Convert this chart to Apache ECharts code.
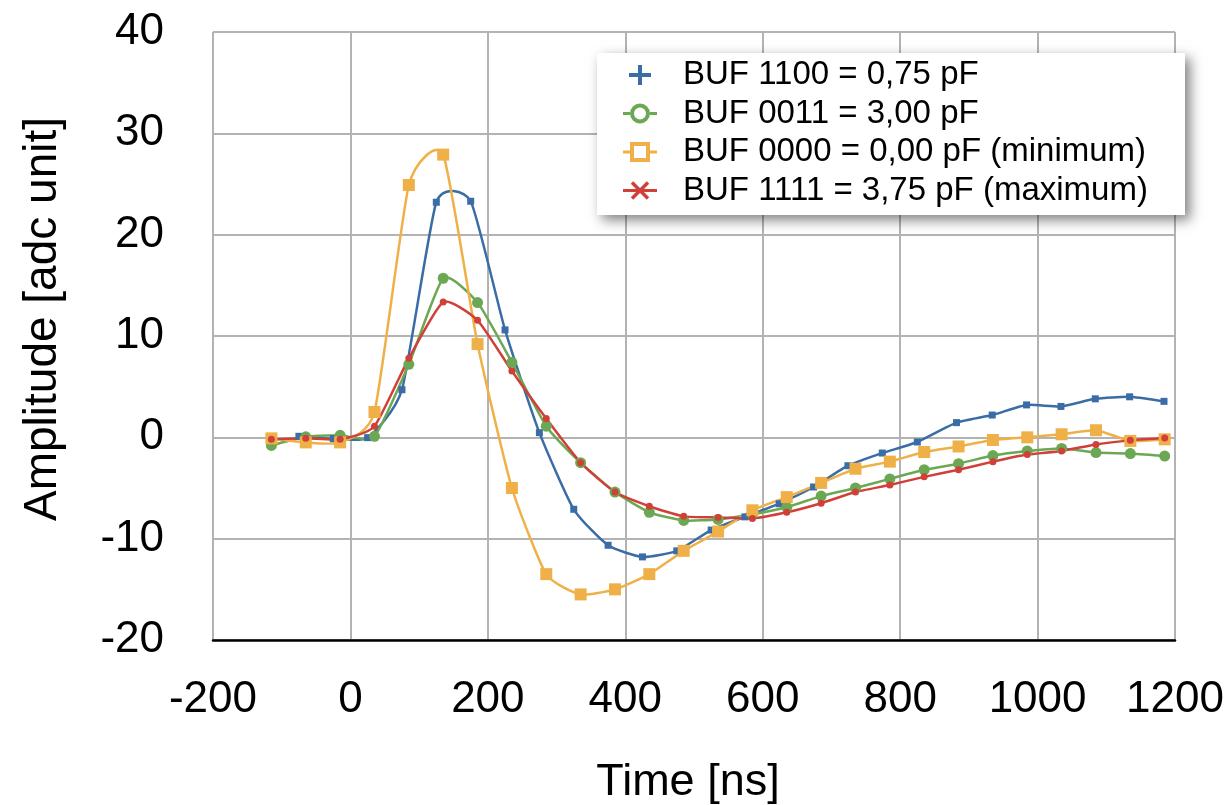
<!DOCTYPE html>
<html>
<head>
<meta charset="utf-8">
<title>BUF amplitude</title>
<script src="https://cdn.jsdelivr.net/npm/echarts@6/dist/echarts.min.js"></script>
<style>
	html, body { margin: 0; padding: 0; background: #fff; }
	#pulse-chart { width: 1230px; height: 805px; }
</style>
</head>
<body>
<div id="pulse-chart"></div>
<script>
// sample times [ns]
var timeA = [-115,-65,-15,35,85,135,185,235,285,335,385,435,485,535,585,635,685,735,785,835,885,935,985,1035,1085,1135,1185];
var timeBlue = [-75,-25,25,75,125,175,225,275,325,375,425,475,525,574,624,674,724,774,825,882,934,984,1034,1084,1134,1184];

// amplitudes [adc unit]
var buf1100 = [0.1,-0.13,-0.03,4.7,23.2,23.3,10.6,0.46,-7.1,-10.65,-11.8,-11.2,-9.15,-7.85,-6.55,-4.9,-2.8,-1.55,-0.46,1.45,2.2,3.2,3.05,3.8,4.0,3.55];
var buf0011 = [-0.8,0.05,0.2,0.1,7.2,15.7,13.3,7.4,1.1,-2.5,-5.4,-7.4,-8.2,-8.1,-7.6,-6.9,-5.8,-5.0,-4.1,-3.2,-2.6,-1.8,-1.35,-1.1,-1.5,-1.6,-1.85];
var buf0000 = [-0.1,-0.5,-0.5,2.5,24.9,27.9,9.2,-5.0,-13.5,-15.5,-15.0,-13.5,-11.2,-9.3,-7.2,-5.9,-4.5,-3.1,-2.4,-1.45,-0.9,-0.26,0.0,0.3,0.7,-0.35,-0.2];
var buf1111 = [-0.2,-0.1,-0.2,1.1,7.8,13.35,11.55,6.55,1.85,-2.5,-5.4,-6.8,-7.8,-7.9,-8.0,-7.4,-6.5,-5.4,-4.7,-3.9,-3.2,-2.4,-1.7,-1.35,-0.7,-0.3,-0.07];

var seriesNames = ['BUF 1100 = 0,75 pF','BUF 0011 = 3,00 pF','BUF 0000 = 0,00 pF (minimum)','BUF 1111 = 3,75 pF (maximum)'];
var colors = ['#3a6ca6','#6ca854','#f0b048','#d04038'];

function pairs(xs, ys){
	var out = [];
	for (var i = 0; i < ys.length; i++) {
		out.push([xs[i], ys[i]]);
	}
	return out;
}

// one bezier segment per data point, cardinal spline through the samples
function splineSegment(xs, ys, color){
	var k = 0.09;
	return function(params, api){
		var i = params.dataIndex;
		var n = ys.length;
		if (i >= n - 1) return null;
		var p0 = api.coord([xs[Math.max(i - 1, 0)], ys[Math.max(i - 1, 0)]]);
		var p1 = api.coord([xs[i], ys[i]]);
		var p2 = api.coord([xs[i + 1], ys[i + 1]]);
		var p3 = api.coord([xs[Math.min(i + 2, n - 1)], ys[Math.min(i + 2, n - 1)]]);
		return {
			type: 'bezierCurve',
			shape: {
				x1: p1[0], y1: p1[1],
				x2: p2[0], y2: p2[1],
				cpx1: p1[0] + (p2[0] - p0[0]) * k,
				cpy1: p1[1] + (p2[1] - p0[1]) * k,
				cpx2: p2[0] - (p3[0] - p1[0]) * k,
				cpy2: p2[1] - (p3[1] - p1[1]) * k
			},
			style: { stroke: color, lineWidth: 2.5, fill: null, lineCap: 'round' }
		};
	};
}

function pulseChart(){
	var chart = echarts.init(document.getElementById('pulse-chart'));
	var font = '"Liberation Sans", Arial, Helvetica, sans-serif';
	var gridColor = '#b3b3b3';

	// legend icons
	var iconPlus = 'path://M9,0H13V8H22V12H13V20H9V12H0V8H9Z';
	var iconRing = 'path://M0,8.5H7V11.5H0Z M27,8.5H34V11.5H27Z M27,10A10,10 0 1,1 7,10A10,10 0 1,1 27,10Z M23,10A6,6 0 1,0 11,10A6,6 0 1,0 23,10Z';
	var iconSquare = 'path://M0,8.5H7V11.5H0Z M27,8.5H34V11.5H27Z M7,0H27V20H7Z M11,4V16H23V4Z';
	var iconStar = 'path://M0,8.5H34V11.5H0Z M10.24,0.76L26.24,16.76L23.76,19.24L7.76,3.24Z M26.24,3.24L10.24,19.24L7.76,16.76L23.76,0.76Z';

	var xsList = [timeBlue, timeA, timeA, timeA];
	var ysList = [buf1100, buf0011, buf0000, buf1111];
	var symbols = ['rect','circle','rect','circle'];
	var symbolSizes = [7, 11, 12, 7];

	var series = [];
	for (var s = 0; s < 4; s++) {
		series.push({
			type: 'custom',
			coordinateSystem: 'cartesian2d',
			renderItem: splineSegment(xsList[s], ysList[s], colors[s]),
			encode: { x: 0, y: 1 },
			silent: true,
			z: 2,
			data: pairs(xsList[s], ysList[s])
		});
	}
	for (var m = 0; m < 4; m++) {
		series.push({
			name: seriesNames[m],
			type: 'scatter',
			symbol: symbols[m],
			symbolSize: symbolSizes[m],
			itemStyle: { color: colors[m], opacity: 1 },
			z: 3,
			data: pairs(xsList[m], ysList[m])
		});
	}

	var option = {
		animation: false,
		color: colors,
		textStyle: { fontFamily: font },
		grid: {
			left: 213,
			right: 55,
			top: 32,
			bottom: 165,
			containLabel: false,
			outerBoundsMode: 'none'
		},
		graphic: [{
			type: 'rect',
			z: 4,
			shape: { x: 597, y: 53, width: 588, height: 162 },
			style: {
				fill: '#fff',
				shadowBlur: 12,
				shadowOffsetX: 5,
				shadowOffsetY: 5,
				shadowColor: 'rgba(0,0,0,0.5)'
			}
		}],
		legend: {
			z: 6,
			orient: 'vertical',
			left: 623,
			top: 58,
			padding: 0,
			itemWidth: 34,
			itemHeight: 20,
			itemGap: 4.5,
			textStyle: {
				fontFamily: font,
				fontSize: 33,
				lineHeight: 34,
				color: '#000',
				padding: [0,0,0,21]
			},
			data: [
				{ name: seriesNames[0], icon: iconPlus },
				{ name: seriesNames[1], icon: iconRing },
				{ name: seriesNames[2], icon: iconSquare },
				{ name: seriesNames[3], icon: iconStar }
			]
		},
		xAxis: {
			type: 'value',
			min: -200,
			max: 1200,
			interval: 200,
			name: 'Time [ns]',
			nameLocation: 'middle',
			nameGap: 120,
			nameTextStyle: { fontFamily: font, fontSize: 45, color: '#000', padding: [0,12,0,0] },
			axisLine: { show: true, onZero: false, lineStyle: { color: '#000', width: 2.5 } },
			axisTick: { show: false },
			axisLabel: {
				fontFamily: font, fontSize: 44, color: '#000', margin: 38,
				formatter: function (v) { return String(v); }
			},
			splitLine: { show: true, lineStyle: { color: gridColor, width: 2 } }
		},
		yAxis: {
			type: 'value',
			min: -20,
			max: 40,
			interval: 10,
			name: 'Amplitude [adc unit]',
			nameLocation: 'middle',
			nameGap: 147,
			nameTextStyle: { fontFamily: font, fontSize: 46, color: '#000', padding: [0,0,0,34] },
			axisLine: { show: true, lineStyle: { color: gridColor, width: 2 } },
			axisTick: { show: false },
			axisLabel: { fontFamily: font, fontSize: 44, color: '#000', margin: 49 },
			splitLine: { show: true, lineStyle: { color: gridColor, width: 2 } }
		},
		series: series
	};

	chart.setOption(option);
}

window.onload = function(){
	pulseChart();
};
</script>
</body>
</html>
